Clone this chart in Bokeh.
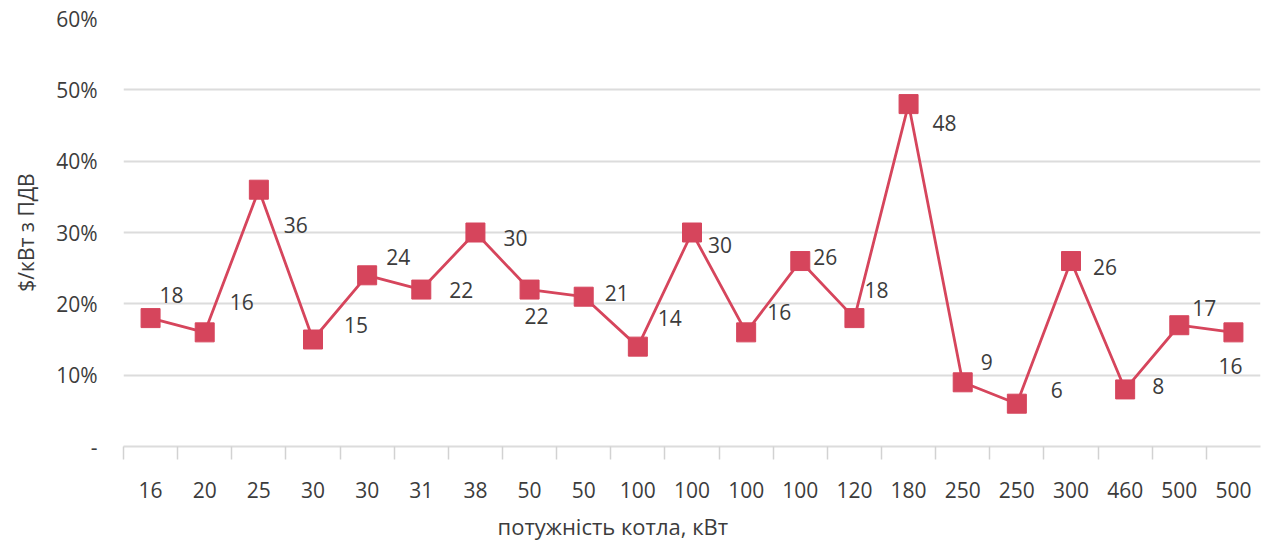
from bokeh.plotting import figure
from bokeh.models import ColumnDataSource, FixedTicker, Range1d, Title
from bokeh.core.properties import value
from bokeh.embed import file_html
from bokeh.resources import INLINE

# boiler capacity categories (kW) and price values
capacity = ["16", "20", "25", "30", "30", "31", "38", "50", "50", "100", "100",
            "100", "100", "120", "180", "250", "250", "300", "460", "500", "500"]
price = [18, 16, 36, 15, 24, 22, 30, 22, 21, 14, 30, 16, 26, 18, 48, 9, 6, 26, 8, 17, 16]
y_ticks = [0, 10, 20, 30, 40, 50, 60]
y_tick_labels = ["-", "10%", "20%", "30%", "40%", "50%", "60%"]

# per-point label nudges in pixels (right, down)
label_dx = [21, 37, 37, 43, 31, 40, 40, 7, 33, 32, 28, 33, 25, 22, 36, 24, 40, 34, 33, 25, -3]
label_dy = [-23, -30, 35, -15, -18, 0, 5, 26, -4, -29, 12, -20, -4, -28, 19, -20, -14, 6, -3, -17, 34]

FONT = "Open Sans"
TEXT = "#3c3c3c"
RED = "#d6455c"
GRID = "#dcdcdc"

idx = list(range(len(capacity)))
src = ColumnDataSource(dict(x=idx, y=price, txt=[str(v) for v in price],
                            dx=label_dx, dy=label_dy))

p = figure(width=1268, height=548, output_backend="svg", toolbar_location=None,
           x_range=Range1d(-0.5, len(capacity) - 0.5), y_range=Range1d(0, 60),
           min_border_left=123, min_border_right=8, min_border_top=18,
           min_border_bottom=101)
p.outline_line_color = None
p.background_fill_color = "white"
p.border_fill_color = "white"

p.xgrid.grid_line_color = None
p.ygrid.ticker = FixedTicker(ticks=y_ticks)
p.ygrid.grid_line_color = GRID
p.ygrid.grid_line_width = 2

# y axis
p.yaxis.ticker = FixedTicker(ticks=y_ticks)
p.yaxis.major_label_overrides = {t: l for t, l in zip(y_ticks, y_tick_labels)}
p.yaxis.axis_line_color = None
p.yaxis.major_tick_line_color = None
p.yaxis.minor_tick_line_color = None
p.yaxis.major_tick_out = 0
p.yaxis.major_tick_in = 0
p.yaxis.major_label_standoff = 26
p.yaxis.major_label_text_font = FONT
p.yaxis.major_label_text_font_size = "21px"
p.yaxis.major_label_text_color = TEXT
p.yaxis.axis_label = "$/кВт з ПДВ"
p.yaxis.axis_label_text_font = FONT
p.yaxis.axis_label_text_font_style = "normal"
p.yaxis.axis_label_text_font_size = "21px"
p.yaxis.axis_label_text_color = TEXT
p.yaxis.axis_label_standoff = 13

# x axis: category labels at centres, small ticks on category boundaries
p.xaxis.ticker = FixedTicker(ticks=idx, minor_ticks=[i - 0.5 for i in idx])
p.xaxis.major_label_overrides = {i: c for i, c in zip(idx, capacity)}
p.xaxis.axis_line_color = GRID
p.xaxis.axis_line_width = 2
p.xaxis.major_tick_line_color = None
p.xaxis.major_tick_out = 0
p.xaxis.major_tick_in = 0
p.xaxis.minor_tick_line_color = "#d2d2d2"
p.xaxis.minor_tick_line_width = 1.5
p.xaxis.minor_tick_out = 13
p.xaxis.minor_tick_in = 0
p.xaxis.major_label_standoff = 22
p.xaxis.major_label_text_font = FONT
p.xaxis.major_label_text_font_size = "21px"
p.xaxis.major_label_text_color = TEXT

p.line("x", "y", source=src, line_color=RED, line_width=2.8)
p.scatter("x", "y", source=src, marker="square", size=19,
          fill_color=RED, line_color=RED)
p.text("x", "y", text="txt", source=src, x_offset="dx", y_offset="dy",
       text_align="center", text_baseline="middle",
       text_font=value(FONT), text_font_size="21px", text_color=TEXT)

# x-axis title, shifted left of the frame centre
p.add_layout(Title(text="потужність котла, кВт", align="left", offset=374,
                   text_font=FONT, text_font_size="22px",
                   text_font_style="normal", text_color=TEXT,
                   standoff=16), "below")

open("out.html", "w").write(file_html(p, INLINE))
